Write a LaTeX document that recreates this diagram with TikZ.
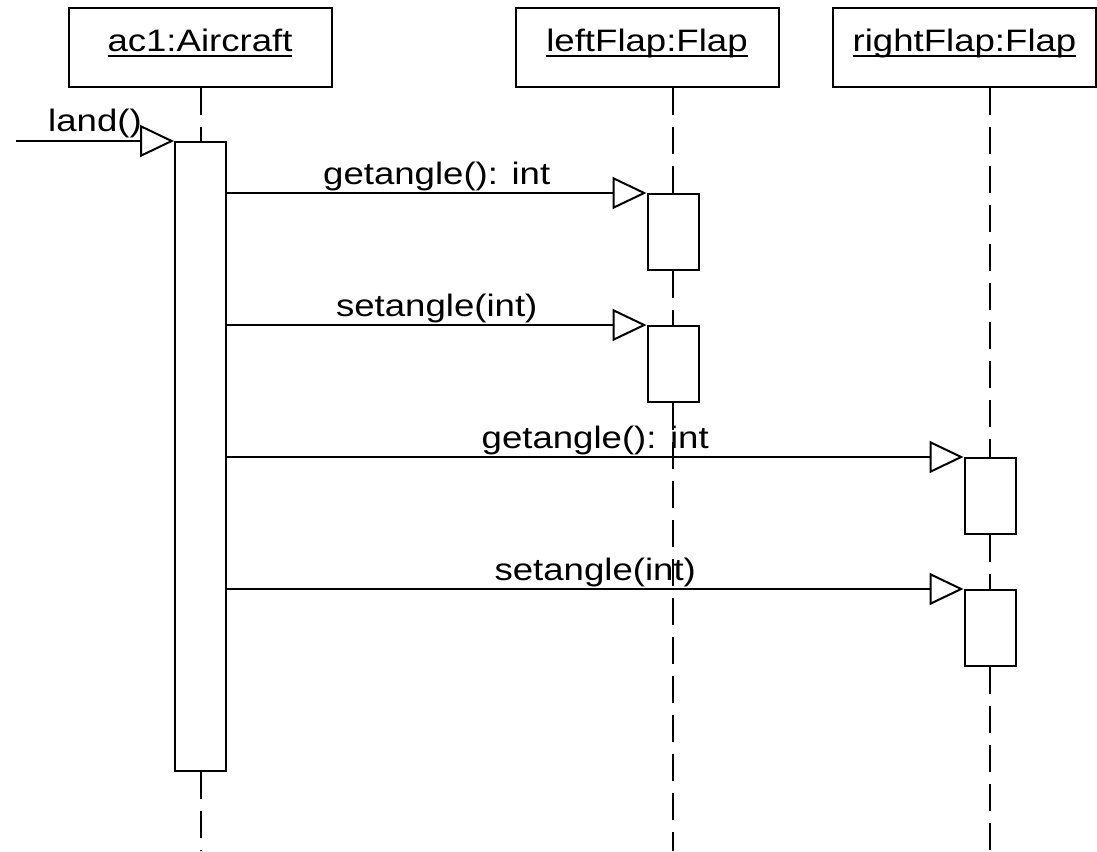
\documentclass[tikz,border=0pt]{standalone}
\usepackage{fontspec}
\setmainfont{Liberation Sans}[FakeStretch=1.18]
\usetikzlibrary{arrows.meta, positioning}

% object name, underlined at a fixed depth
\newcommand{\objname}[1]{\setbox0\hbox{#1}\rlap{\rule[-5pt]{\wd0}{1.8pt}}\box0}

\begin{document}
\begin{tikzpicture}[
    x=1pt, y=-1pt,
    node distance=54pt,
    objbox/.style={
      rectangle, draw, line width=2pt, minimum width=263pt, minimum height=78pt,
      font=\fontsize{31}{36}\selectfont, text height=14pt, text depth=5pt, inner sep=0pt
    },
    bar/.style={
      rectangle, draw, fill=white, line width=2pt, minimum width=51pt,
      minimum height=76pt, inner sep=0pt
    },
    lifeline/.style={line width=2pt, dash pattern=on 27pt off 12pt},
    msg/.style={line width=2pt, -{Triangle[open, length=34pt, width=32pt]}},
    msglabel/.style={font=\fontsize{31}{36}\selectfont, anchor=base, yshift=9pt, inner sep=0pt}
  ]
    \useasboundingbox (0,0) rectangle (1097,851);
    \coordinate (bottom) at (0,851);

    % Objects
    \node[objbox] (ac1) at (200,47.5) {\objname{ac1:Aircraft}};
    \node[objbox] (leftFlap) at (647,47.5) {\objname{leftFlap:Flap}};
    \node[objbox] (rightFlap) at (964.5,47.5) {\objname{rightFlap:Flap}};

    % Activations
    \node[bar, anchor=north, minimum height=629pt] (ac1Bar) at (200.5,141) {};
    \node[bar, anchor=north] (leftBarA) at (673,193) {};
    \node[bar, below=of leftBarA] (leftBarB) {};
    \node[bar, anchor=north] (rightBarA) at (990,457) {};
    \node[bar, below=of rightBarA] (rightBarB) {};

    % Lifelines
    \draw[lifeline] (ac1.south -| ac1Bar.north) -- (ac1Bar.north);
    \draw[lifeline] (ac1Bar.south) -- (ac1Bar.south |- bottom);
    \draw[lifeline] (leftFlap.south -| leftBarA.north) -- (leftBarA.north);
    \draw[lifeline] (leftBarA.south) -- (leftBarB.north);
    \draw[lifeline] (leftBarB.south) -- (leftBarB.south |- bottom);
    \draw[lifeline] (rightFlap.south -| rightBarA.north) -- (rightBarA.north);
    \draw[lifeline] (rightBarA.south) -- (rightBarB.north);
    \draw[lifeline] (rightBarB.south) -- (rightBarB.south |- bottom);

    % Messages
    \coordinate (landStart) at (16,141);
    \draw[msg] (landStart) -- node[msglabel, yshift=1pt] {land()} (ac1Bar.north west);
    \draw[msg] (ac1Bar.east |- leftBarA.north west) -- node[msglabel] {getangle(): int} (leftBarA.north west);
    \draw[msg] (ac1Bar.east |- leftBarB.north west) -- node[msglabel] {setangle(int)} (leftBarB.north west);
    \draw[msg] (ac1Bar.east |- rightBarA.north west) -- node[msglabel] {getangle(): int} (rightBarA.north west);
    \draw[msg] (ac1Bar.east |- rightBarB.north west) -- node[msglabel] {setangle(int)} (rightBarB.north west);
  \end{tikzpicture}
\end{document}
